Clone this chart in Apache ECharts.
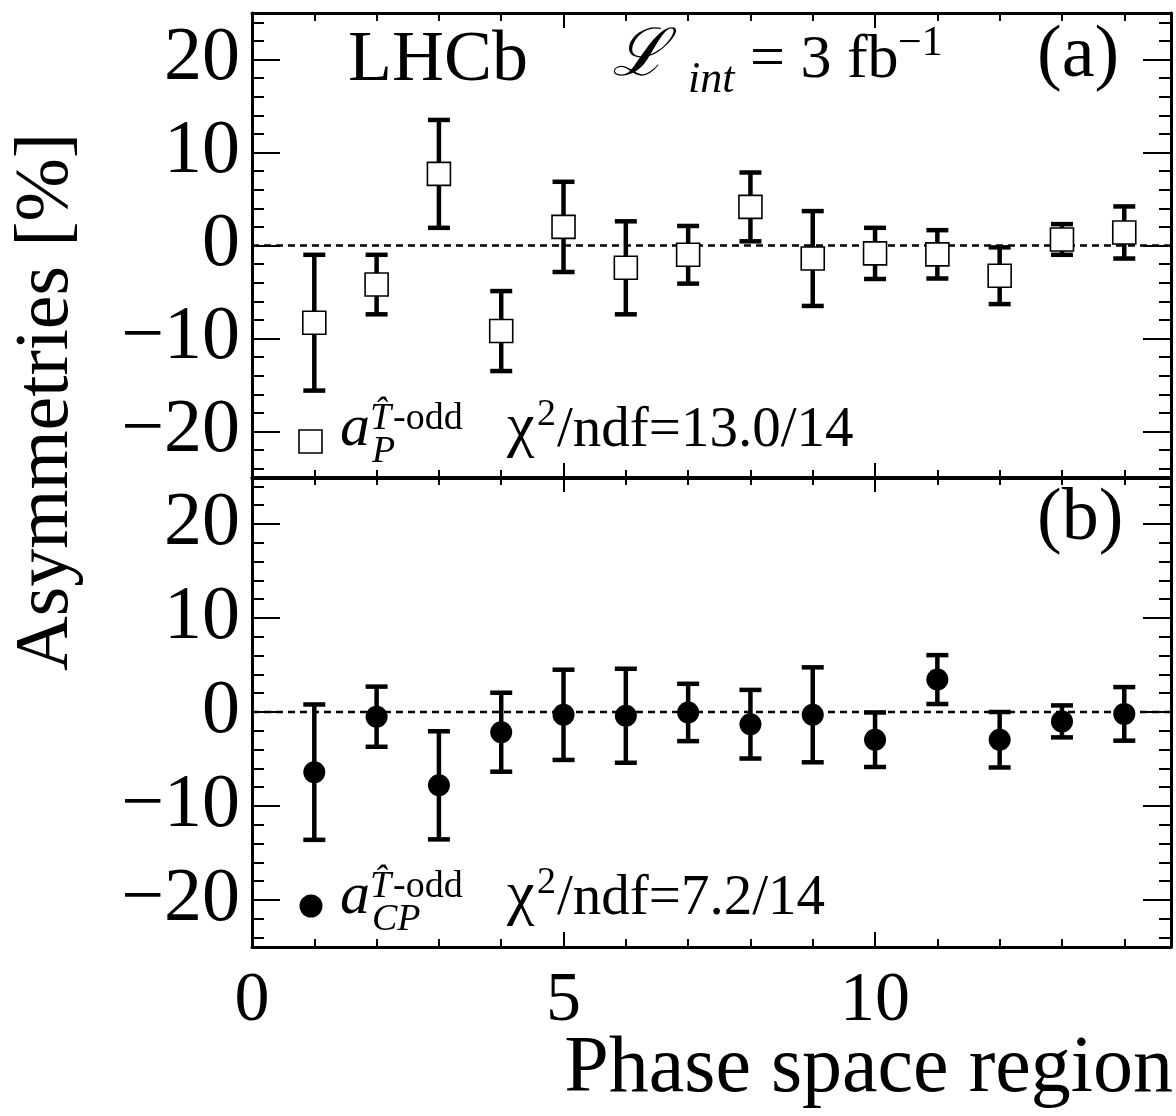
<!DOCTYPE html>
<html><head><meta charset="utf-8">
<script src="https://cdn.jsdelivr.net/npm/echarts@6/dist/echarts.min.js"></script>
<style>html,body{margin:0;padding:0;background:#fff}#c{width:1176px;height:1116px}</style>
</head><body><div id="c"></div>
<script>
// ---- data ----
const regions = [1, 2, 3, 4, 5, 6, 7, 8, 9, 10, 11, 12, 13, 14];
const aPVal  = [-8.3, -4.2, 7.7, -9.2, 2.0, -2.4, -1.0, 4.15, -1.4, -0.85, -0.95, -3.25, 0.65, 1.4];
const aPErr  = [7.3, 3.2, 5.8, 4.3, 4.85, 5.0, 3.1, 3.7, 5.1, 2.75, 2.6, 3.05, 1.65, 2.8];
const aCPVal = [-6.4, -0.5, -7.8, -2.15, -0.3, -0.4, -0.05, -1.3, -0.3, -2.95, 3.45, -2.95, -1.0, -0.2];
const aCPErr = [7.2, 3.2, 5.75, 4.2, 4.8, 5.0, 3.05, 3.65, 5.05, 2.9, 2.6, 2.95, 1.7, 2.85];
const zeroLineX = [0, 14.75];
const yTickLabels = [-20, -10, 0, 10, 20];
const xTickLabels = [0, 5, 10];
const chi2A = '/ndf=13.0/14';
const chi2B = '/ndf=7.2/14';

const FONT = '"Liberation Serif", "Times New Roman", serif';
const chart = echarts.init(document.getElementById('c'), null, {renderer: 'canvas'});

function fmtNum(v) { return v < 0 ? '\u2212' + (-v) : String(v); }

function xAx(gridIndex, position, showLabel) {
  return {
    type: 'value', gridIndex, position, min: 0, max: 14.75, interval: 5,
    axisLine: {show: true, onZero: false, lineStyle: {color: '#000', width: 3}},
    axisTick: {show: true, inside: true, length: 15, lineStyle: {color: '#000', width: 2}},
    minorTick: {show: true, splitNumber: 5, length: 8, lineStyle: {color: '#000', width: 2}},
    splitLine: {show: false}, minorSplitLine: {show: false},
    axisLabel: {
      show: showLabel, margin: 20, color: '#000', fontFamily: FONT, fontSize: 70,
      showMinLabel: true, showMaxLabel: false,
      formatter: v => xTickLabels.includes(v) ? fmtNum(v) : ''
    }
  };
}
function yAx(gridIndex, position, showLabel) {
  return {
    type: 'value', gridIndex, position, min: -25, max: 25, splitNumber: 5,
    axisLine: {show: true, onZero: false, lineStyle: {color: '#000', width: 3}},
    axisTick: {show: true, inside: true, length: 28, lineStyle: {color: '#000', width: 2}},
    minorTick: {show: true, splitNumber: 5, length: 12, lineStyle: {color: '#000', width: 2}},
    splitLine: {show: false}, minorSplitLine: {show: false},
    axisLabel: {
      show: showLabel, margin: 12, color: '#000', fontFamily: FONT, fontSize: 76,
      showMinLabel: false, showMaxLabel: false,
      formatter: v => yTickLabels.includes(v) ? fmtNum(v) : ''
    }
  };
}

function errRender(params, api) {
  const x = api.value(0), y = api.value(1), e = api.value(2);
  const top = api.coord([x, y + e]);
  const bot = api.coord([x, y - e]);
  const hw = 11;
  const style = {stroke: '#000', lineWidth: 4.5};
  return {type: 'group', children: [
    {type: 'line', shape: {x1: top[0], y1: top[1], x2: bot[0], y2: bot[1]}, style},
    {type: 'line', shape: {x1: top[0] - hw, y1: top[1], x2: top[0] + hw, y2: top[1]}, style},
    {type: 'line', shape: {x1: bot[0] - hw, y1: bot[1], x2: bot[0] + hw, y2: bot[1]}, style}
  ]};
}

function zeroSeries(xi, yi) {
  return {type: 'line', xAxisIndex: xi, yAxisIndex: yi, z: 1, silent: true, symbol: 'none',
    lineStyle: {color: '#000', type: [7, 5], width: 2.6},
    data: zeroLineX.map(x => [x, 0])};
}

function txt(text, x, baseline, size, extra) {
  extra = extra || {};
  return {
    type: 'text', x: x, y: baseline - 0.34 * size, rotation: extra.rotation || 0, z: 100,
    style: {
      text: text, fill: '#000', fontFamily: extra.family || FONT, fontSize: size,
      fontStyle: extra.italic ? 'italic' : 'normal',
      align: extra.align || 'left', verticalAlign: 'middle'
    }
  };
}

const option = {
  animation: false,
  backgroundColor: '#fff',
  grid: [
    {left: 252, top: 13, width: 919, height: 465, outerBoundsMode: 'none'},
    {left: 252, top: 477, width: 919, height: 470, outerBoundsMode: 'none'}
  ],
  xAxis: [xAx(0, 'bottom', false), xAx(0, 'top', false), xAx(1, 'bottom', true), xAx(1, 'top', false)],
  yAxis: [yAx(0, 'left', true), yAx(0, 'right', false), yAx(1, 'left', true), yAx(1, 'right', false)],
  series: [
    zeroSeries(0, 0),
    {type: 'custom', xAxisIndex: 0, yAxisIndex: 0, renderItem: errRender, z: 2,
     data: regions.map((r, i) => [r, aPVal[i], aPErr[i]])},
    {type: 'scatter', xAxisIndex: 0, yAxisIndex: 0, symbol: 'rect', symbolSize: 23, z: 5,
     itemStyle: {color: '#fff', borderColor: '#000', borderWidth: 1.6, opacity: 1},
     data: regions.map((r, i) => [r, aPVal[i]])},
    zeroSeries(2, 2),
    {type: 'custom', xAxisIndex: 2, yAxisIndex: 2, renderItem: errRender, z: 2,
     data: regions.map((r, i) => [r, aCPVal[i], aCPErr[i]])},
    {type: 'scatter', xAxisIndex: 2, yAxisIndex: 2, symbol: 'circle', symbolSize: 22, z: 5,
     itemStyle: {color: '#000', opacity: 1},
     data: regions.map((r, i) => [r, aCPVal[i]])}
  ],
  graphic: [
    // axis titles
    {type: 'text', x: 47, y: 402, rotation: Math.PI / 2, z: 100,
     style: {text: 'Asymmetries [%]', fill: '#000', fontFamily: FONT, fontSize: 76, align: 'center', verticalAlign: 'middle'}},
    txt('Phase space region', 1173, 1097, 80, {align: 'right'}),
    // panel (a) annotations
    txt('LHCb', 348, 86, 72),
    txt('\u2112', 612, 80, 66, {italic: true, family: '"DejaVu Serif", serif'}),
    txt('int', 688, 95, 44, {italic: true}),
    txt('= 3 fb', 750, 82, 62),
    txt('\u22121', 898, 58, 42),
    txt('(a)', 1037, 82, 74),
    {type: 'rect', shape: {x: 299, y: 430, width: 23, height: 23}, style: {fill: '#fff', stroke: '#000', lineWidth: 1.6}, z: 100},
    txt('a', 340, 450, 60, {italic: true}),
    txt('P', 372, 465, 38, {italic: true}),
    txt('T\u0302', 370, 432, 38, {italic: true}),
    txt('-odd', 393, 432, 38),
    txt('\u03C7', 507, 450, 62),
    txt('2', 537, 428, 38),
    txt(chi2A, 557, 450, 57),
    // panel (b) annotations
    txt('(b)', 1037, 545, 74),
    {type: 'circle', shape: {cx: 311, cy: 906, r: 11.5}, style: {fill: '#000'}, z: 100},
    txt('a', 340, 918, 60, {italic: true}),
    txt('CP', 372, 933, 38, {italic: true}),
    txt('T\u0302', 370, 900, 38, {italic: true}),
    txt('-odd', 393, 900, 38),
    txt('\u03C7', 507, 918, 62),
    txt('2', 537, 896, 38),
    txt(chi2B, 557, 918, 57)
  ]
};
chart.setOption(option);
</script>
</body></html>
